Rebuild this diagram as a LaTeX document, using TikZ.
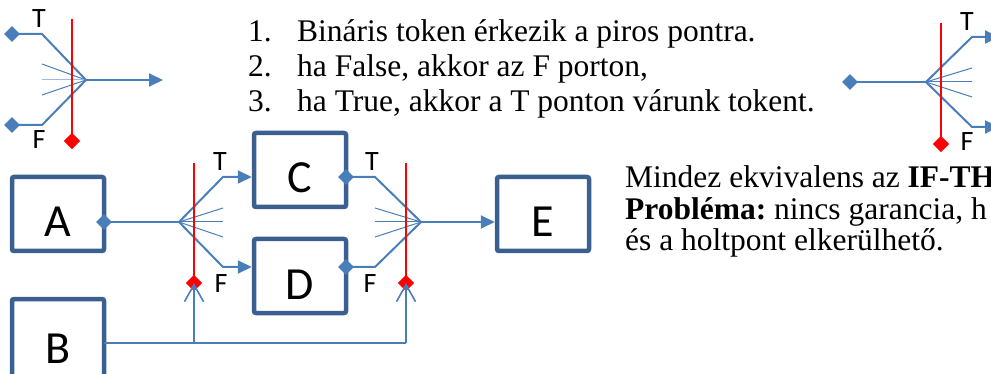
\documentclass[tikz,border=0pt]{standalone}
\usepackage{fontspec}
\setmainfont{Liberation Serif}
\newfontfamily\calfont{Carlito}
\usetikzlibrary{arrows.meta,shapes.geometric}
\definecolor{boxblue}{HTML}{3B5F8E}
\definecolor{lineblue}{HTML}{4A7EBB}
\definecolor{fanlight}{HTML}{9DBBE0}
\tikzset{
 box/.style={draw=boxblue, line width=4.5pt, rounded corners=2pt, minimum width=92pt, minimum height=74pt, inner sep=0pt, font=\calfont\fontsize{46}{46}\selectfont, text height=46pt, text depth=0pt},
 conn/.style={draw=lineblue, line width=2pt},
 fan/.style={draw=lineblue, line width=1pt},
 redline/.style={draw=red, line width=2pt},
 bdia/.style={diamond, fill=lineblue, minimum width=16pt, minimum height=16pt, inner sep=0pt},
 rdia/.style={diamond, fill=red, minimum width=16pt, minimum height=16pt, inner sep=0pt},
 tipped/.style={-{Triangle[length=14pt,width=13pt]}},
 barbed/.style={-{Straight Barb[length=17pt,width=19pt,line width=1.6pt]}},
 port/.style={font=\calfont\fontsize{28}{28}\selectfont, inner sep=0pt},
 txt/.style={anchor=base west, inner sep=0pt, font=\fontsize{31.5}{35}\selectfont},
 rtxt/.style={anchor=base west, inner sep=0pt, font=\fontsize{31.5}{32}\selectfont},
}
\begin{document}
\begin{tikzpicture}[x=1pt,y=-1pt]
\useasboundingbox (0,0) rectangle (991,374);
\clip (0,0) rectangle (991,374);

% ---------- top-left icon ----------
\coordinate (tlf) at (86,80);
\coordinate (tlo) at (163,80);
\coordinate (tlrt) at (72,19);
\draw[fan] (tlf) -- (42,64);
\draw[fan, draw=fanlight] (tlf) -- (42,80);
\draw[fan] (tlf) -- (42,95);
\node[bdia] (tlT) at (12,34) {};
\node[bdia] (tlF) at (12,125) {};
\draw[conn] (tlT.center) -- (42,34) -- (tlf);
\draw[conn] (tlF.center) -- (42,125) -- (tlf);
\draw[conn, tipped] (tlf) -- (tlo);
\node[rdia] (tlr) at (72,141) {};
\draw[redline] (tlrt) -- (tlr.center);
\node[rdia] at (tlr) {};
\node[port] (tlTl) at (39,19) {T};
\node[port] (tlFl) at (39,140) {F};

% ---------- top-right icon ----------
\node[bdia] (trin) at (850,82) {};
\coordinate (trf) at (926,82);
\coordinate (trTo) at (999,37);
\coordinate (trFo) at (999,127);
\coordinate (trrt) at (941,23);
\draw[fan] (trf) -- (972,68);
\draw[fan] (trf) -- (972,82);
\draw[fan] (trf) -- (972,97);
\draw[conn] (trin.center) -- (trf);
\draw[conn, tipped] (trf) -- (972,37) -- (trTo);
\draw[conn, tipped] (trf) -- (972,127) -- (trFo);
\node[rdia] (trr) at (941,144) {};
\draw[redline] (trrt) -- (trr.center);
\node[rdia] at (trr) {};
\node[port] (trTl) at (967,22) {T};
\node[port] (trFl) at (967,142) {F};

% ---------- text ----------
\node[txt] (n1) at (248,42) {1.};
\node[txt] (l1) at (297,42) {Bináris token érkezik a piros pontra.};
\node[txt] (n2) at (248,77) {2.};
\node[txt] (l2) at (297,77) {ha False, akkor az F porton,};
\node[txt] (n3) at (248,112) {3.};
\node[txt] (l3) at (297,112) {ha True, akkor a T ponton várunk tokent.};

\node[rtxt] (m1) at (625,188) {Mindez ekvivalens az \textbf{IF-TH}};
\node[rtxt] (m2) at (625,220) {\textbf{Probléma:}~nincs garancia, h};
\node[rtxt] (m3) at (625,251) {és a holtpont elkerülhető.};

% ---------- boxes ----------
\node[box] (A) at (58,214) {A};
\node[box, minimum height=82pt] (B) at (58,340) {B};
\node[box] (C) at (300,170) {C};
\node[box] (D) at (300,276) {D};
\node[box] (E) at (543,214) {E};

% ---------- first fork ----------
\coordinate (f1) at (179,222);
\coordinate (t1) at (223,177);
\coordinate (b1) at (223,267);
\coordinate (r1t) at (194,163);
\draw[fan] (f1) -- (223,208);
\draw[fan] (f1) -- (223,222);
\draw[fan] (f1) -- (223,237);
\draw[conn] (104,222) -- (f1);
\draw[conn, tipped] (f1) -- (t1) -- (C.west |- t1);
\draw[conn, tipped] (f1) -- (b1) -- (D.west |- b1);
\node[rdia] (rd1) at (194,283) {};
\draw[redline] (r1t) -- (rd1.center);
\node[rdia] at (rd1) {};
\node[bdia] (dA) at (104,222) {};
\node[port] (T1) at (220,162) {T};
\node[port] (F1) at (221,284) {F};

% ---------- second fork ----------
\coordinate (f2) at (421,222);
\coordinate (t2) at (375,177);
\coordinate (b2) at (375,267);
\coordinate (r2t) at (406,163);
\draw[fan] (f2) -- (375,208);
\draw[fan] (f2) -- (375,222);
\draw[fan] (f2) -- (375,237);
\draw[conn] (346,177) -- (t2) -- (f2);
\draw[conn] (346,267) -- (b2) -- (f2);
\draw[conn, tipped] (f2) -- (E.west |- f2);
\node[rdia] (rd2) at (406,283) {};
\draw[redline] (r2t) -- (rd2.center);
\node[rdia] at (rd2) {};
\node[bdia] (dC) at (346,177) {};
\node[bdia] (dD) at (346,267) {};
\node[port] (T2) at (372,162) {T};
\node[port] (F2) at (370,284) {F};

% ---------- B to control inputs ----------
\coordinate (bo) at (104,343);
\draw[conn, line width=1.5pt] (bo) -- (rd2 |- bo);
\draw[conn, line width=1.5pt, barbed] (rd1 |- bo) -- (rd1.center);
\draw[conn, line width=1.5pt, barbed] (rd2 |- bo) -- (rd2.center);
\end{tikzpicture}
\end{document}
